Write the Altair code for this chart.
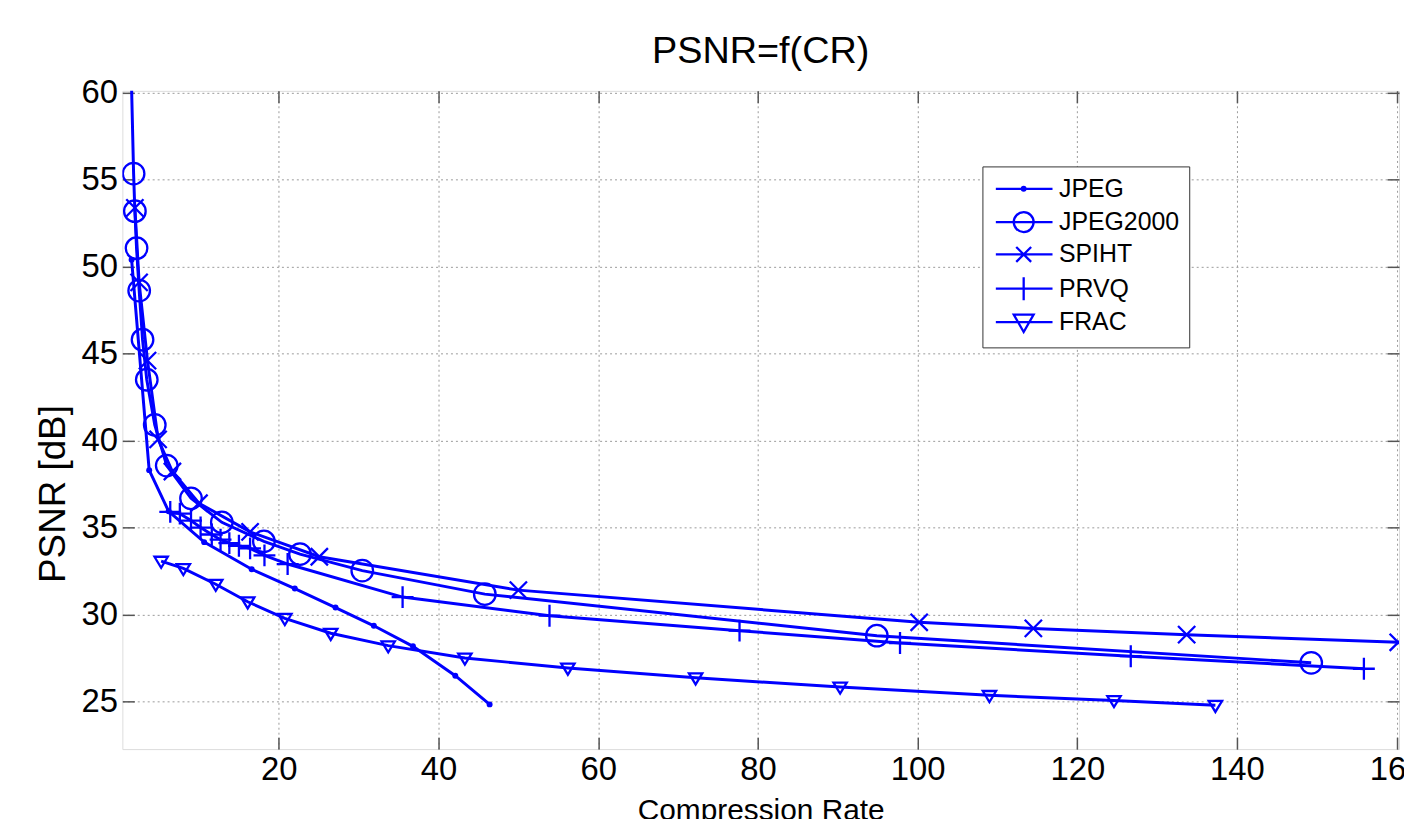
import altair as alt
import pandas as pd

BLUE = "#0000ff"
FONT = "Liberation Sans"

series_names = ["JPEG", "JPEG2000", "SPIHT", "PRVQ", "FRAC"]

jpeg_cr = [1.56, 3.76, 6.2, 10.65, 16.6, 22.0, 27.1, 31.9, 36.8, 42.1, 46.4]
jpeg_psnr = [50.4, 38.3, 35.93, 34.16, 32.6, 31.49, 30.4, 29.35, 28.17, 26.48, 24.83]

j2k_cr = [1.52, 1.81, 1.97, 2.18, 2.51, 2.93, 3.46, 4.46, 5.96, 9.0, 12.86, 18.13, 22.65, 30.45, 45.8, 94.9, 149.3]
j2k_psnr = [61.0, 55.35, 53.19, 51.06, 48.62, 45.8, 43.5, 40.9, 38.56, 36.68, 35.3, 34.2, 33.47, 32.52, 31.17, 28.78, 27.22]

spiht_cr = [1.97, 2.5, 3.55, 4.88, 6.67, 10.0, 16.4, 25.07, 50.0, 100.2, 114.5, 133.7, 160.2]
spiht_psnr = [53.38, 49.1, 44.6, 40.07, 38.22, 36.4, 34.75, 33.32, 31.4, 29.55, 29.2, 28.84, 28.4]

prvq_cr = [6.4, 7.6, 9.0, 10.2, 11.6, 12.7, 13.8, 15.0, 16.4, 18.2, 21.1, 35.5, 53.9, 77.7, 97.8, 126.7, 155.9]
prvq_psnr = [35.9, 35.8, 35.4, 35.0, 34.6, 34.3, 34.1, 33.95, 33.8, 33.4, 32.9, 31.0, 29.93, 29.07, 28.36, 27.6, 26.88]

frac_cr = [5.26, 8.04, 12.1, 16.1, 20.75, 26.5, 33.7, 43.3, 56.2, 72.2, 90.3, 109.0, 124.6, 137.3]
frac_psnr = [33.07, 32.65, 31.74, 30.73, 29.78, 28.92, 28.21, 27.5, 26.92, 26.36, 25.83, 25.35, 25.06, 24.78]

x_ticks = [20, 40, 60, 80, 100, 120, 140, 160]
y_ticks = [25, 30, 35, 40, 45, 50, 55, 60]

rows = []
for name, xs, ys in [
    ("JPEG", jpeg_cr, jpeg_psnr),
    ("JPEG2000", j2k_cr, j2k_psnr),
    ("SPIHT", spiht_cr, spiht_psnr),
    ("PRVQ", prvq_cr, prvq_psnr),
    ("FRAC", frac_cr, frac_psnr),
]:
    for i, (a, b) in enumerate(zip(xs, ys)):
        rows.append({"series": name, "cr": a, "psnr": b, "idx": i})
df = pd.DataFrame(rows)

xscale = alt.Scale(domain=[0.4, 160.3], nice=False, zero=False)
yscale = alt.Scale(domain=[22.26, 60.11], nice=False, zero=False)

# marker style per series: shape, size, filled
marker_styles = {
    "JPEG": ("circle", 36, True),
    "JPEG2000": ("circle", 470, False),
    "SPIHT": ("M-1,-1L1,1M-1,1L1,-1", 300, False),
    "PRVQ": ("M-1,0L1,0M0,-1L0,1", 484, False),
    "FRAC": ("M-1,-0.65L1,-0.65L0,1Z", 180, False),
}

# legend symbols (line + marker)
legend_shapes = [
    "M-0.9,0L4.8,0M1.72,0A0.18,0.18 0 1,0 2.08,0A0.18,0.18 0 1,0 1.72,0",
    "M-0.9,0L4.8,0M0.9,0A1,1 0 1,0 2.9,0A1,1 0 1,0 0.9,0",
    "M-0.9,0L4.8,0M1.15,-0.75L2.65,0.75M1.15,0.75L2.65,-0.75",
    "M-0.9,0L4.8,0M1.9,-1.15L1.9,1.15",
    "M-0.9,0L4.8,0M0.9,-0.75L2.9,-0.75L1.9,1.0Z",
]

axis_common = dict(labelFont=FONT, titleFont=FONT, labelColor="black", titleColor="black",
                   titleFontWeight="normal")


def tick_axis(orient):
    return alt.Axis(orient=orient, values=x_ticks if orient in ("top", "bottom") else y_ticks,
                    labels=False, title=None, grid=False, ticks=True, tickSize=12,
                    tickColor="#555", tickWidth=1.5, domain=False, offset=-12)


lines = alt.Chart(df).mark_line(clip=True, strokeWidth=3, color=BLUE).encode(
    x=alt.X("cr:Q", scale=xscale,
            axis=alt.Axis(orient="bottom", values=x_ticks, title="Compression Rate",
                          labelFontSize=33, titleFontSize=30, grid=True, gridDash=[2, 3],
                          gridColor="#9a9a9a", gridWidth=1, ticks=False, domain=False,
                          labelPadding=5, titlePadding=9, **axis_common)),
    y=alt.Y("psnr:Q", scale=yscale,
            axis=alt.Axis(orient="left", values=y_ticks, title="PSNR [dB]",
                          labelFontSize=33, titleFontSize=37, grid=True, gridDash=[2, 3],
                          gridColor="#9a9a9a", gridWidth=1, ticks=False, domain=False,
                          labelPadding=5, titleX=-50, titleY=405, **axis_common)),
    detail="series:N",
    order="idx:Q",
)

point_layers = []
for k, name in enumerate(series_names):
    shp, sz, filled = marker_styles[name]
    first = (k == 0)
    point_layers.append(
        alt.Chart(df).transform_filter(alt.datum.series == name).mark_point(
            clip=True, shape=shp, size=sz, filled=filled, color=BLUE, opacity=1,
            strokeWidth=2.3
        ).encode(
            x=alt.X("cr:Q", scale=xscale, axis=tick_axis("bottom") if first else None),
            y=alt.Y("psnr:Q", scale=yscale, axis=tick_axis("left") if first else None),
        )
    )

legend_layer = alt.Chart(df).mark_point(clip=True, opacity=0, strokeWidth=2.3, color=BLUE,
                                         filled=False).encode(
    x=alt.X("cr:Q", scale=xscale, axis=tick_axis("top")),
    y=alt.Y("psnr:Q", scale=yscale, axis=tick_axis("right")),
    shape=alt.Shape("series:N",
                    scale=alt.Scale(domain=series_names, range=legend_shapes),
                    legend=alt.Legend(title=None, orient="none", legendX=865, legendY=76,
                                      symbolSize=400, symbolOpacity=1,
                                      symbolStrokeColor=BLUE, symbolFillColor="transparent",
                                      symbolStrokeWidth=2.3,
                                      labelFont=FONT, labelFontSize=25, labelColor="black",
                                      labelOffset=42, rowPadding=4.5,
                                      padding=10, strokeColor="#333", fillColor="white",
                                      labelLimit=400)),
)

chart = alt.layer(lines, *point_layers, legend_layer).resolve_axis(
    x="independent", y="independent"
).properties(
    width=1284, height=662,
    title=alt.Title("PSNR=f(CR)", font=FONT, fontSize=38, fontWeight="normal",
                    color="black", anchor="middle", offset=6),
    autosize=alt.AutoSizeParams(type="none"),
    padding={"left": 115, "top": 81, "right": 5, "bottom": 70},
).configure_view(stroke="#555", strokeWidth=1.5).configure(background="white")

chart.save("out.html", embed_options={"renderer": "svg", "actions": False})
